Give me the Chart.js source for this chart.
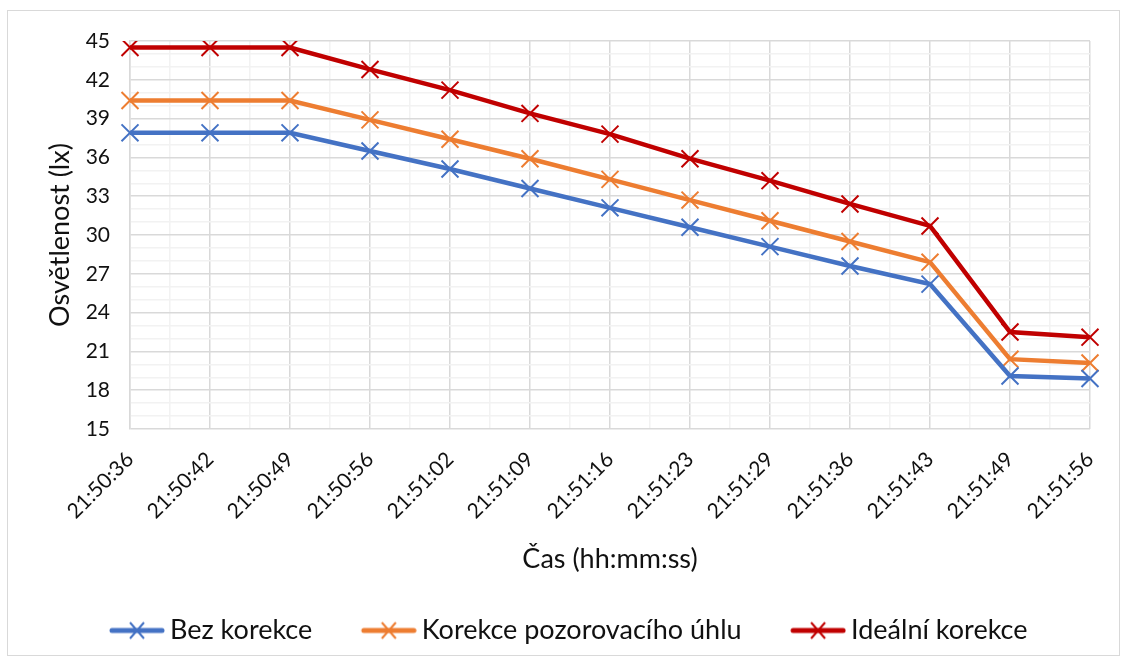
<!DOCTYPE html>
<html>
<head>
<meta charset="utf-8">
<script src="https://cdn.jsdelivr.net/npm/chart.js@4/dist/chart.umd.min.js"></script>
<style>
  html, body { margin: 0; padding: 0; background: #fff; }
  #wrap { width: 1130px; height: 664px; }
</style>
</head>
<body>
<div id="wrap"><canvas id="graf"></canvas></div>
<script>
// časy měření
const casy = ["21:50:36", "21:50:42", "21:50:49", "21:50:56", "21:51:02", "21:51:09", "21:51:16",
              "21:51:23", "21:51:29", "21:51:36", "21:51:43", "21:51:49", "21:51:56"];

// osvětlenost v lx
const bezKorekce = [37.9, 37.9, 37.9, 36.5, 35.1, 33.6, 32.1, 30.6, 29.1, 27.6, 26.2, 19.1, 18.9];
const korekceUhlu = [40.4, 40.4, 40.4, 38.9, 37.4, 35.9, 34.3, 32.7, 31.1, 29.5, 27.9, 20.4, 20.1];
const idealniKorekce = [44.5, 44.5, 44.5, 42.8, 41.2, 39.4, 37.8, 35.9, 34.2, 32.4, 30.7, 22.5, 22.1];

const yMin = 15, yMax = 45, yKrok = 3;

const barvy = { bez: "#4472C4", uhel: "#ED7D31", ideal: "#C00000" };
const pismo = "Lato, 'Open Sans', sans-serif";
const text = "#111";

// šířka místa pro ikonu v legendě (vlevo zůstane mezera mezi položkami)
const sirkaIkony = 82;

// ikona do legendy: čára s křížkem, zarovnaná k pravému okraji
function ikona(barva) {
    const c = document.createElement("canvas");
    c.width = sirkaIkony + 17; c.height = 22;
    const g = c.getContext("2d");
    const x0 = c.width - 56;
    g.strokeStyle = barva;
    g.lineCap = "round";
    g.lineWidth = 5;
    g.beginPath(); g.moveTo(x0 + 3, 11); g.lineTo(x0 + 53, 11); g.stroke();
    g.lineCap = "butt";
    g.lineWidth = 2;
    g.beginPath();
    g.moveTo(x0 + 21, 3); g.lineTo(x0 + 35, 19);
    g.moveTo(x0 + 35, 3); g.lineTo(x0 + 21, 19);
    g.stroke();
    return c;
}

function rada(nazev, data, barva) {
    return {
        label: nazev,
        data: data,
        borderColor: barva,
        backgroundColor: barva,
        borderWidth: 4.5,
        tension: 0,
        pointStyle: "crossRot",
        pointRadius: 12,
        pointHoverRadius: 12,
        pointBorderWidth: 2,
        pointBorderColor: barva,
        legendIcon: ikona(barva)
    };
}

// bílé pozadí a rámeček grafu
const ramecek = {
    id: "ramecek",
    beforeDraw(chart) {
        const ctx = chart.ctx;
        ctx.save();
        ctx.fillStyle = "#fff";
        ctx.fillRect(0, 0, chart.width, chart.height);
        ctx.strokeStyle = "#d9d9d9";
        ctx.lineWidth = 1;
        ctx.strokeRect(7.5, 10.5, 1112, 645);
        ctx.restore();
    }
};

new Chart(document.getElementById("graf"), {
    type: "line",
    data: {
        labels: casy,
        datasets: [
            rada("Bez korekce", bezKorekce, barvy.bez),
            rada("Korekce pozorovacího úhlu", korekceUhlu, barvy.uhel),
            rada("Ideální korekce", idealniKorekce, barvy.ideal)
        ]
    },
    options: {
        responsive: true,
        maintainAspectRatio: false,
        animation: false,
        layout: { padding: { left: 12, right: 40, top: 41, bottom: 10 } },
        plugins: {
            tooltip: { enabled: false },
            legend: {
                position: "bottom",
                labels: {
                    usePointStyle: true,
                    pointStyleWidth: sirkaIkony,
                    boxHeight: 22,
                    padding: 14,
                    color: text,
                    font: { family: pismo, size: 27 },
                    generateLabels(chart) {
                        return chart.data.datasets.map((ds, i) => ({
                            text: ds.label,
                            datasetIndex: i,
                            pointStyle: ds.legendIcon,
                            fillStyle: ds.borderColor,
                            strokeStyle: ds.borderColor,
                            fontColor: text,
                            lineWidth: 0,
                            hidden: false
                        }));
                    }
                }
            }
        },
        scales: {
            x: {
                type: "category",
                offset: false,
                grid: { display: false },
                border: { display: false },
                ticks: {
                    autoSkip: false,
                    maxRotation: 45,
                    minRotation: 45,
                    padding: 10,
                    color: text,
                    font: { family: pismo, size: 21 }
                },
                title: {
                    display: true,
                    text: "Čas (hh:mm:ss)",
                    color: text,
                    font: { family: pismo, size: 27 },
                    padding: { top: 4, bottom: 28 }
                },
                afterFit(scale) { scale.height = 174; }
            },
            // jemná svislá mřížka (i mezi časy)
            mrizka: {
                type: "linear",
                position: "bottom",
                min: 0,
                max: casy.length - 1,
                ticks: { display: false, stepSize: 0.5 },
                grid: {
                    drawTicks: false,
                    lineWidth: 1.5,
                    color: c => Number.isInteger(c.tick.value) ? "#d9d9d9" : "#f2f2f2"
                },
                border: { display: false },
                afterFit(scale) { scale.height = 0; }
            },
            y: {
                min: yMin,
                max: yMax,
                ticks: {
                    stepSize: 1,
                    autoSkip: false,
                    padding: 20,
                    color: text,
                    font: { family: pismo, size: 21 },
                    callback: v => (v - yMin) % yKrok === 0 ? v : ""
                },
                grid: {
                    drawTicks: false,
                    lineWidth: 1.5,
                    color: c => (c.tick.value - yMin) % yKrok === 0 ? "#d9d9d9" : "#f2f2f2"
                },
                border: { color: "#d9d9d9", width: 1.5 },
                title: {
                    display: true,
                    text: "Osvětlenost (lx)",
                    color: text,
                    font: { family: pismo, size: 27 },
                    padding: { top: 32, bottom: 0 }
                },
                afterFit(scale) { scale.width = 118; }
            }
        }
    },
    plugins: [ramecek]
});
</script>
</body>
</html>
